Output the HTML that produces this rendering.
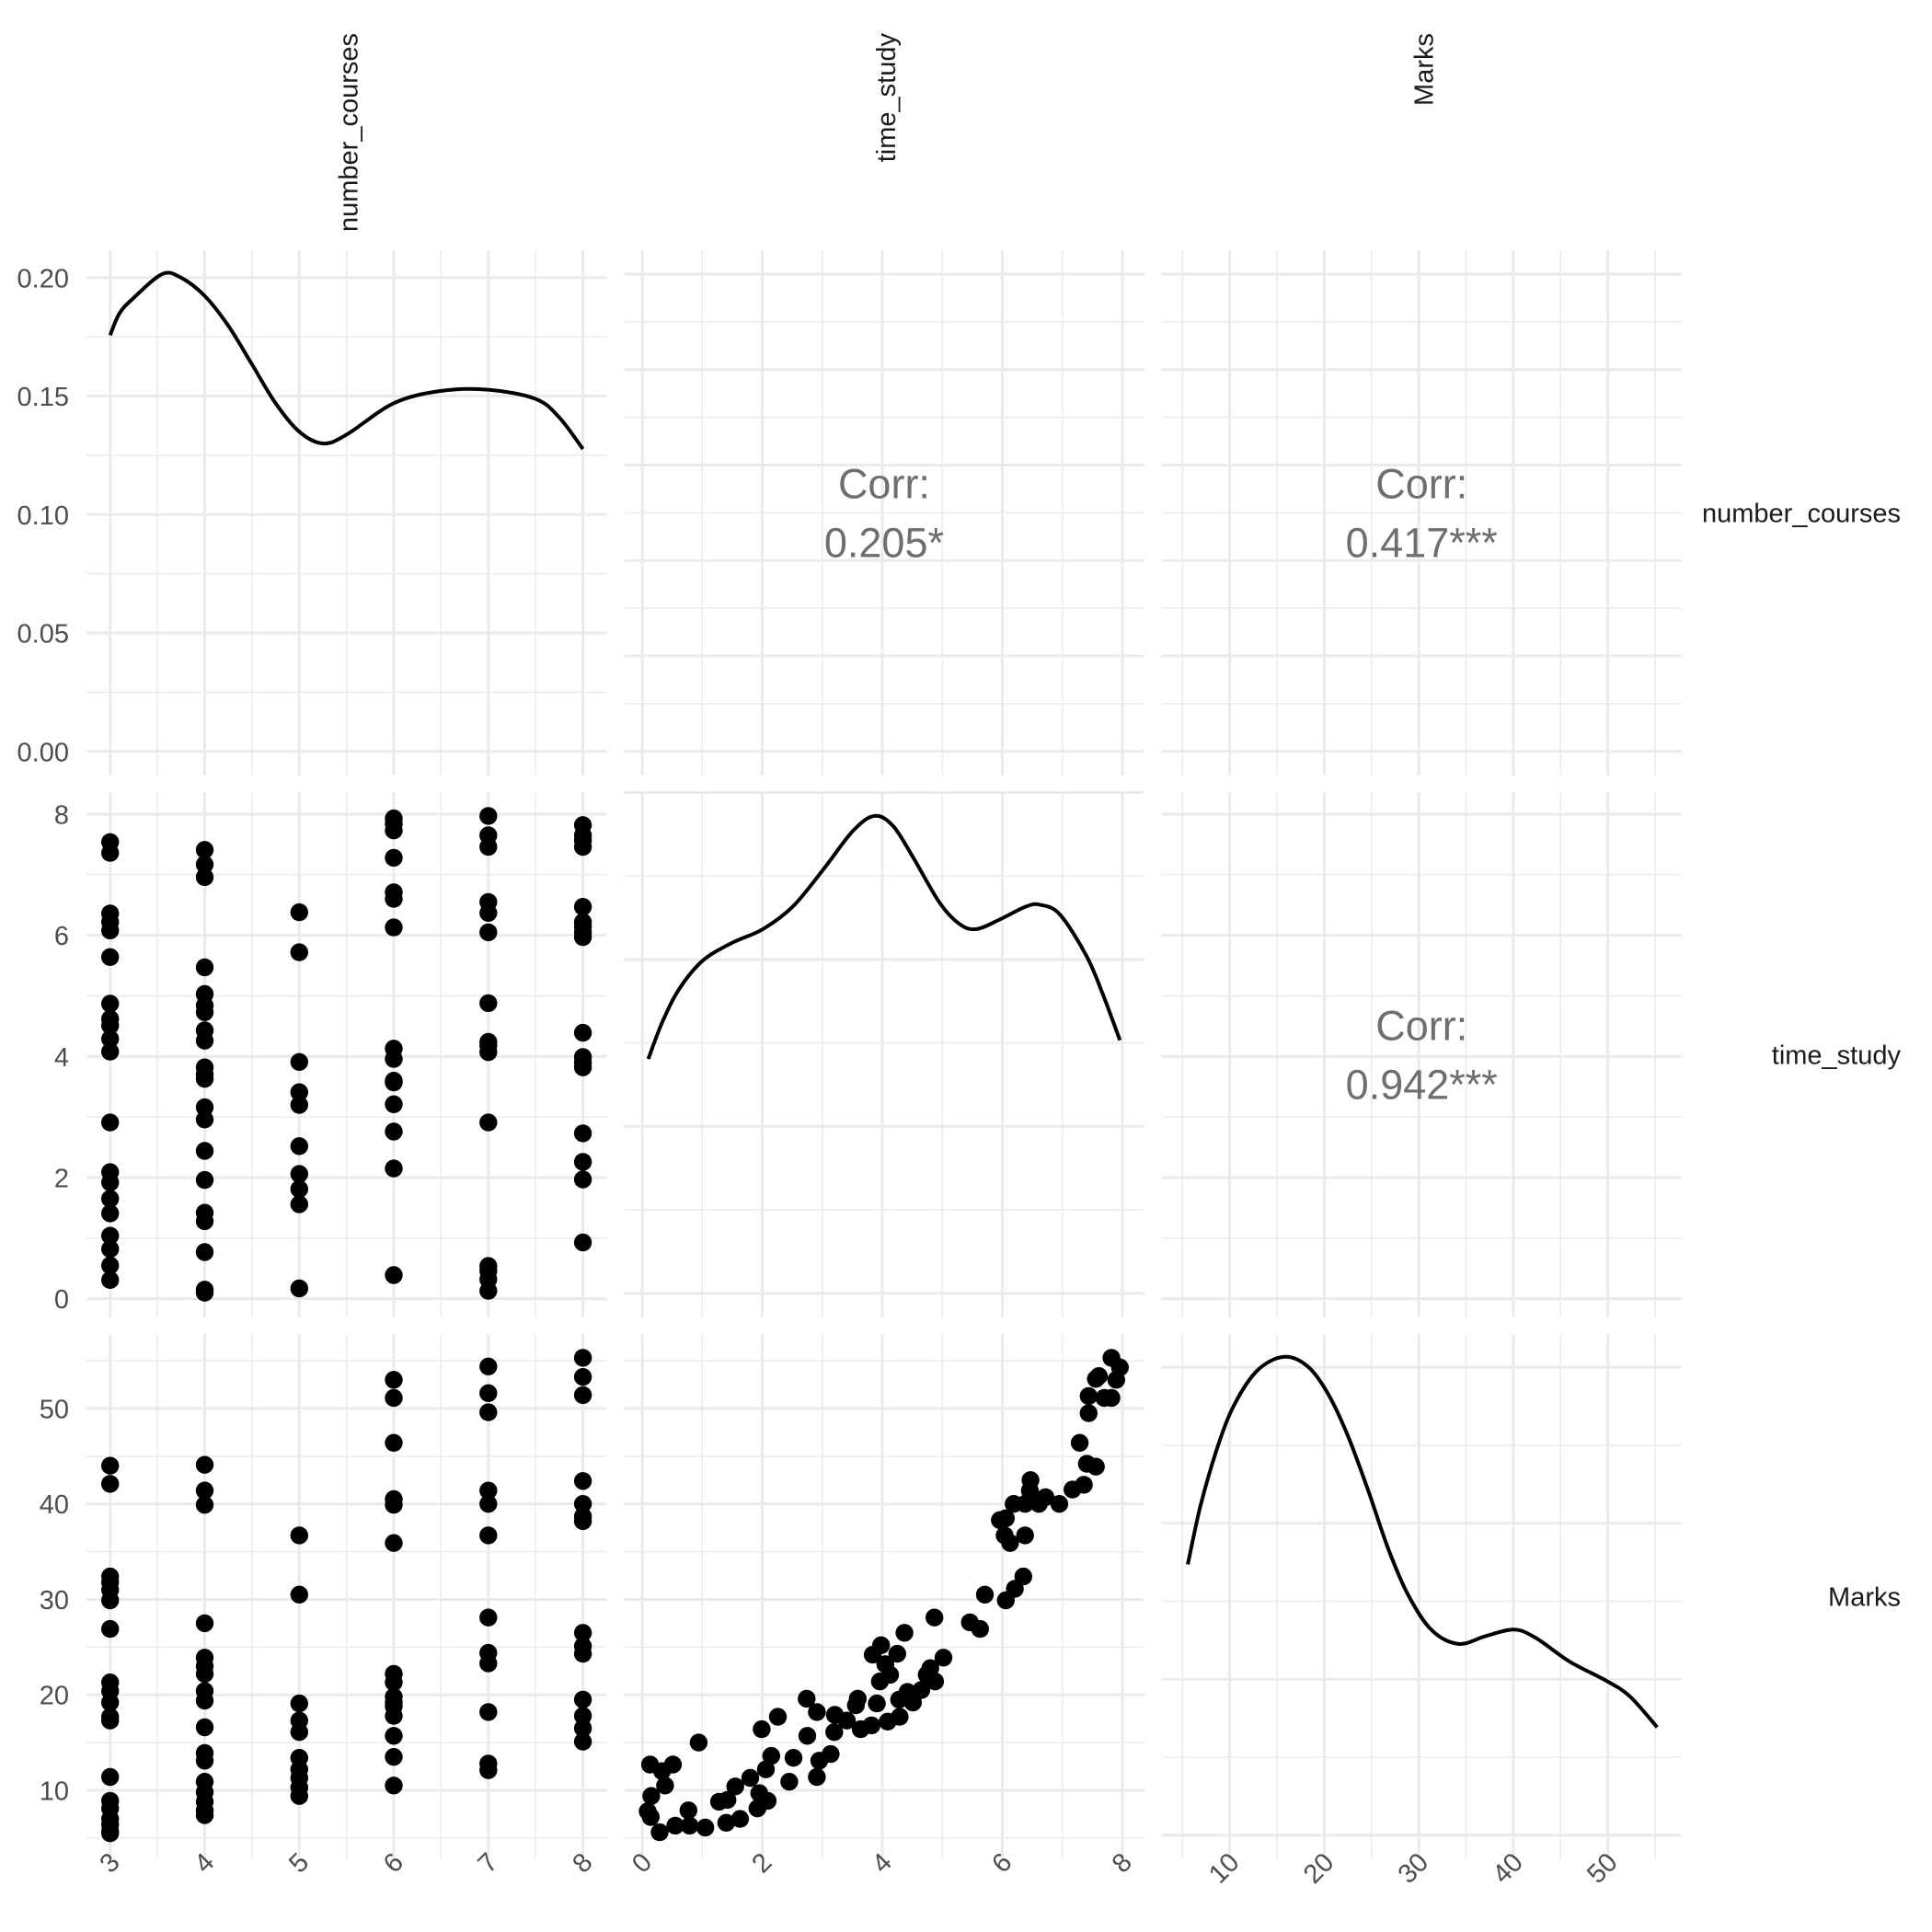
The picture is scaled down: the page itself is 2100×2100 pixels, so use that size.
<!DOCTYPE html>
<html><head><meta charset="utf-8"><style>
html,body{margin:0;padding:0;background:#fff;}
svg{display:block;font-family:"Liberation Sans",Arial,sans-serif;}
</style></head><body>
<svg id="chart" width="2100" height="2100" viewBox="0 0 2100 2100" xmlns="http://www.w3.org/2000/svg"></svg>
<script>
// ---- data ----
const varNames = ["number_courses","time_study","Marks"];
const courseTicks = ["3","4","5","6","7","8"];
const timeTicks = ["0","2","4","6","8"];
const marksTicks = ["10","20","30","40","50"];
const densTicks = ["0.00","0.05","0.10","0.15","0.20"];
const corrLabels = ["0.205*","0.417***","0.942***"];

const coursesDensX = [3,3.1,3.25,3.55,3.75,4,4.25,4.5,4.75,5,5.25,5.5,6,6.5,7,7.5,7.75,8];
const coursesDensY = [.1757,.185,.1915,.2015,.2,.1923,.1797,.1634,.147,.135,.130,.1337,.147,.1522,.1527,.1488,.141,.1277];
const timeDensX = [0.1,0.34,0.62,1.01,1.51,2.01,2.51,3.01,3.51,3.87,4.18,4.51,4.96,5.29,5.57,5.96,6.40,6.63,6.96,7.40,7.68,7.96];
const timeDensY = [.0702,.0815,.0913,.0997,.1051,.1091,.1159,.1268,.1385,.143,.14,.1307,.1169,.1106,.1091,.112,.1159,.1164,.1135,.1012,.0894,.0758];
const marksDensX = [5.57,6.91,8.69,10.46,12.94,15.78,18.26,20.39,22.52,24.65,26.77,28.9,31.38,34.22,37.06,40.07,42.38,45.92,49.82,52.3,55.21];
const marksDensY = [.01736,.0211,.02483,.02756,.0298,.03067,.03005,.02831,.02557,.02209,.01836,.01537,.01313,.01226,.01276,.01318,.01264,.01114,.0099,.00891,.00692];

const ctCourses = [3,3,3,3,3,3,3,3,3,3,3,3,3,3,3,3,3,3,3,3, 4,4,4,4,4,4,4,4,4,4,4,4,4,4,4,4,4,4,4,4,4, 5,5,5,5,5,5,5,5,5,5, 6,6,6,6,6,6,6,6,6,6,6,6,6,6,6, 7,7,7,7,7,7,7,7,7,7,7,7,7,7,7, 8,8,8,8,8,8,8,8,8,8,8,8,8,8,8,8,8];
const ctTime = [7.54,7.36,6.36,6.22,6.08,5.64,4.87,4.62,4.51,4.29,4.08,2.91,2.09,1.92,1.65,1.41,1.04,0.82,0.55,0.31,
 7.41,7.17,6.96,5.47,5.03,4.84,4.73,4.43,4.26,3.82,3.71,3.63,3.16,2.96,2.44,1.96,1.42,1.28,0.77,0.15,0.10,
 6.38,5.72,3.91,3.41,3.20,2.52,2.06,1.81,1.56,0.17,
 7.93,7.84,7.73,7.28,6.71,6.60,6.13,4.13,3.96,3.60,3.57,3.21,2.76,2.15,0.39,
 7.97,7.65,7.46,6.55,6.37,6.05,4.88,4.24,4.18,4.07,2.91,0.54,0.46,0.32,0.13,
 7.82,7.65,7.57,7.46,6.47,6.22,6.14,6.05,5.97,4.39,3.99,3.90,3.82,2.73,2.26,1.97,0.93];

const cmCourses = [3,3,3,3,3,3,3,3,3,3,3,3,3,3,3,3,3,3,3, 4,4,4,4,4,4,4,4,4,4,4,4,4,4,4,4,4, 5,5,5,5,5,5,5,5,5,5, 6,6,6,6,6,6,6,6,6,6,6,6,6,6,6, 7,7,7,7,7,7,7,7,7,7,7,7, 8,8,8,8,8,8,8,8,8,8,8,8,8,8];
const cmMarks = [44.0,42.1,32.4,31.8,31.0,29.9,26.9,21.3,20.4,19.2,17.7,17.3,11.4,8.9,8.1,7.0,6.4,5.7,5.5,
 44.1,41.4,39.9,27.5,23.9,23.0,22.2,20.4,19.4,16.6,13.9,13.1,10.9,9.8,8.8,7.9,7.4,
 36.7,30.5,19.1,17.3,16.1,13.4,12.2,11.3,10.3,9.4,
 53.0,51.1,46.4,40.5,39.9,35.9,22.2,21.3,19.8,19.2,18.8,17.8,15.7,13.5,10.5,
 54.4,51.6,49.6,41.4,40.0,36.7,28.1,24.4,23.3,18.2,12.8,12.1,
 55.3,53.3,51.4,42.4,40.0,38.7,38.2,26.5,25.1,24.3,19.5,17.8,16.5,15.1];

const tmTime = [7.82,7.96,7.90,7.61,7.56,7.44,7.70,7.82,7.44,7.29,7.41,7.56,7.36,7.17,6.47,6.46,6.72,6.61,6.38,6.19,6.95,6.06,5.96,6.04,6.13,6.38,6.35,6.21,6.06,5.71,5.46,5.63,4.87,4.37,3.98,3.84,4.25,4.05,4.13,3.96,5.02,4.80,4.74,4.88,4.65,4.42,4.28,4.51,3.91,3.59,3.56,4.29,4.09,3.82,3.64,3.41,3.21,2.91,2.74,3.20,2.75,2.26,1.99,3.14,2.95,2.52,2.15,2.06,2.91,2.45,1.80,1.55,1.95,2.09,1.92,1.42,1.28,1.63,1.40,0.94,0.13,0.51,0.33,0.38,0.15,0.09,0.14,0.77,0.55,0.79,1.05,0.29];
const tmMarks = [55.3,54.3,53.0,53.4,53.1,51.3,51.1,51.1,49.5,46.4,44.2,43.9,42.0,41.5,42.5,41.4,40.7,40.0,40.0,40.0,40.0,38.5,38.3,36.7,35.9,36.7,32.4,31.1,29.9,30.5,27.6,26.9,28.1,26.5,25.2,24.2,24.3,23.2,22.1,21.4,23.9,22.8,22.1,21.4,20.5,20.3,19.5,19.2,19.1,19.6,18.9,17.7,17.2,16.8,16.4,17.3,17.9,18.2,19.6,16.1,15.7,17.7,16.4,13.8,13.1,13.4,13.6,12.2,11.4,10.9,11.3,10.4,9.7,8.9,8.1,9.0,8.8,7.0,6.6,15.0,12.7,12.7,12.0,10.5,9.4,7.8,7.2,7.9,6.3,6.3,6.1,5.6];

// ---- layout ----
const NS="http://www.w3.org/2000/svg";
const svg=document.getElementById('chart');
const colX=[94,678.3,1262.6], rowY=[272,861,1450], PW=565.3, PH=570.7;
const doms=[[2.75,8.25],[-0.304,8.364],[2.8,57.8]];
const majors=[[3,4,5,6,7,8],[0,2,4,6,8],[10,20,30,40,50]];
const minors=[[3.5,4.5,5.5,6.5,7.5],[1,3,5,7],[5,15,25,35,45,55]];
function xs(c,v){const d=doms[c];return colX[c]+(v-d[0])/(d[1]-d[0])*PW;}
function ys(r,v){const d=doms[r];return rowY[r]+PH-(v-d[0])/(d[1]-d[0])*PH;}
function dys(r,v,peak){return rowY[r]+PH-(v+0.05*peak)/(1.1*peak)*PH;}
function mk(tag,attrs,parent){const e=document.createElementNS(NS,tag);for(const k in attrs)e.setAttribute(k,attrs[k]);(parent||svg).appendChild(e);return e;}
const GRID="#ebebeb";
function hline(g,y,c,w){const l=mk('line',{x1:colX[c],x2:colX[c]+PW,y1:y,y2:y,stroke:GRID,'stroke-width':w},g);}
function vline(g,x,r,w){const l=mk('line',{x1:x,x2:x,y1:rowY[r],y2:rowY[r]+PH,stroke:GRID,'stroke-width':w},g);}
const densPeaks=[0.2015,0.143,0.0306];
const densGrid=[[0,0.05,0.1,0.15,0.2],[0,0.05,0.1,0.15],[0,0.01,0.02,0.03]];
const densMinor=[[0.025,0.075,0.125,0.175],[0.025,0.075,0.125],[0.005,0.015,0.025]];

for(let r=0;r<3;r++)for(let c=0;c<3;c++){
  const g=mk('g',{});
  
  
  if(r===c){
    const p=densPeaks[r];
    densMinor[r].forEach(v=>{const y=dys(r,v,p);if(y>=rowY[r]-1)hline(g,y,c,1.5);});
    densGrid[r].forEach(v=>{const y=dys(r,v,p);if(y>=rowY[r]-1)hline(g,y,c,3);});
  } else {
    minors[r].forEach(v=>hline(g,ys(r,v),c,1.5));
    majors[r].forEach(v=>hline(g,ys(r,v),c,3));
  }
  minors[c].forEach(v=>vline(g,xs(c,v),r,1.5));
  majors[c].forEach(v=>vline(g,xs(c,v),r,3));
}

// ---- densities ----
function smoothPath(pts){
  let d='M'+pts[0][0]+','+pts[0][1];
  for(let i=0;i<pts.length-1;i++){
    const p0=pts[Math.max(0,i-1)],p1=pts[i],p2=pts[i+1],p3=pts[Math.min(pts.length-1,i+2)];
    const c1=[p1[0]+(p2[0]-p0[0])/6,p1[1]+(p2[1]-p0[1])/6];
    const c2=[p2[0]-(p3[0]-p1[0])/6,p2[1]-(p3[1]-p1[1])/6];
    d+=' C'+c1[0].toFixed(1)+','+c1[1].toFixed(1)+' '+c2[0].toFixed(1)+','+c2[1].toFixed(1)+' '+p2[0].toFixed(1)+','+p2[1].toFixed(1);
  }
  return d;
}
const densX=[coursesDensX,timeDensX,marksDensX], densY=[coursesDensY,timeDensY,marksDensY];
for(let i=0;i<3;i++){
  const pts=densX[i].map((v,j)=>[xs(i,v),dys(i,densY[i][j],densPeaks[i])]);
  const p=mk('path',{d:smoothPath(pts),fill:'none',stroke:'#000','stroke-width':4});
  
  
}

// ---- scatter ----
function scatter(xv,yv,c,r,name){
  const g=mk('g',{});
  
  
  xv.forEach((v,i)=>{
    const pt=mk('circle',{cx:xs(c,v).toFixed(1),cy:ys(r,yv[i]).toFixed(1),r:9.7,fill:'#000'},g);
    
    
  });
}
scatter(ctCourses,ctTime,0,1,'courses-time');
scatter(cmCourses,cmMarks,0,2,'courses-marks');
scatter(tmTime,tmMarks,1,2,'time-marks');

// ---- correlations ----
const corrCells=[[0,1],[0,2],[1,2]];
corrCells.forEach((rc,i)=>{
  const cx=colX[rc[1]]+PW/2, cy=rowY[rc[0]]+PH/2;
  const t1=mk('text',{x:cx,y:cy-16,'text-anchor':'middle','font-size':45,fill:'#6e6e6e'});
  t1.textContent='Corr:';
  
  
  const t2=mk('text',{x:cx,y:cy+48,'text-anchor':'middle','font-size':45,fill:'#6e6e6e'});
  t2.textContent=corrLabels[i];
  
  
});

// ---- strip labels ----
for(let i=0;i<3;i++){
  const x=colX[i]+PW/2+12;
  const t=mk('text',{x:x,y:36,transform:'rotate(-90 '+x+' 36)','text-anchor':'end','font-size':29,fill:'#1a1a1a'});
  t.textContent=varNames[i];
  
  
  const t2=mk('text',{x:2066,y:rowY[i]+PH/2+10,'text-anchor':'end','font-size':29,fill:'#1a1a1a'});
  t2.textContent=varNames[i];
  
  
}

// ---- y tick labels ----
densTicks.forEach(s=>{
  const t=mk('text',{x:75,y:dys(0,parseFloat(s),densPeaks[0])+10.5,'text-anchor':'end','font-size':29,fill:'#4d4d4d'});
  t.textContent=s;
  
  
});
[timeTicks,marksTicks].forEach((arr,k)=>{
  arr.forEach(s=>{
    const t=mk('text',{x:75,y:ys(k+1,parseFloat(s))+10.5,'text-anchor':'end','font-size':29,fill:'#4d4d4d'});
    t.textContent=s;
    
    
  });
});
// ---- x tick labels ----
[courseTicks,timeTicks,marksTicks].forEach((arr,c)=>{
  arr.forEach(s=>{
    const x=xs(c,parseFloat(s))+12, y=2026;
    const t=mk('text',{x:x,y:y,transform:'rotate(-45 '+x+' '+y+')','text-anchor':'end','font-size':29,fill:'#4d4d4d'});
    t.textContent=s;
    
    
  });
});
</script>
</body></html>
